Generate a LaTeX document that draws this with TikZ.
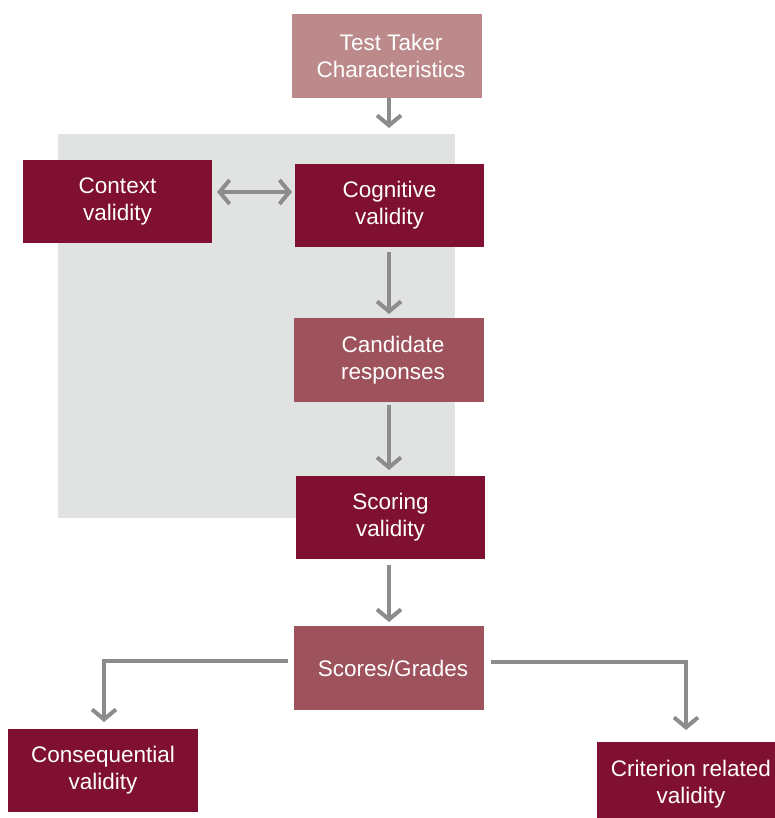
\documentclass[tikz,border=0pt]{standalone}
\usepackage{fontspec}
\setmainfont{Liberation Sans}
\usetikzlibrary{arrows.meta}
\definecolor{darkred}{HTML}{801031}
\definecolor{midred}{HTML}{9E525C}
\definecolor{lightred}{HTML}{BC8A8A}
\definecolor{panelgray}{HTML}{E1E3E3}
\definecolor{arrowgray}{HTML}{8C8C8C}
\newcommand{\nudge}{\hspace*{8pt}}
\begin{document}
\begin{tikzpicture}[x=1pt,y=-1pt,
  box/.style={minimum width=190pt,minimum height=84pt,inner sep=0pt,
    text=white,align=center,font=\fontsize{22.5pt}{27pt}\selectfont},
  darkbox/.style={box,fill=darkred},
  midbox/.style={box,fill=midred},
  lightbox/.style={box,fill=lightred},
  flow/.style={draw=arrowgray,line width=4pt,
    -{Straight Barb[length=10pt,width=24pt,line width=4pt]}},
  flowboth/.style={flow,{Straight Barb[length=10pt,width=24pt,line width=4pt]}-{Straight Barb[length=10pt,width=24pt,line width=4pt]}}]
\useasboundingbox (0,0) rectangle (775,818);
\fill[white] (0,0) rectangle (775,818);
% shaded panel behind the test-task stages
\fill[panelgray] (58,134) rectangle (455,518);

\node[lightbox] (ttc) at (387,56) {\nudge Test Taker\\\nudge Characteristics};
\node[darkbox,minimum width=189pt,minimum height=83pt] (ctx) at (117.5,201.5) {Context\\validity};
\node[darkbox,minimum width=189pt,minimum height=83pt] (cog) at (389.5,205.5) {Cognitive\\validity};
\node[midbox] (cand) at (389,360) {\nudge Candidate\\\nudge responses};
\node[darkbox,minimum width=189pt,minimum height=83pt] (scor) at (390.5,517.5) {Scoring\\validity};
\node[midbox] (grades) at (389,668) {\nudge Scores/Grades};
\node[darkbox,minimum width=190pt,minimum height=83pt] (cons) at (103,770.5) {Consequential\\validity};
\node[darkbox,minimum width=188pt,minimum height=84pt] (crit) at (691,784) {Criterion related\\validity};

\coordinate (lcorner) at (104,661);
\coordinate (rcorner) at (686,662);

\draw[flow] (389,98) -- (389,128);
\draw[flowboth] (217,192) -- (292,192);
\draw[flow] (389,252) -- (389,314);
\draw[flow] (389,405) -- (389,470);
\draw[flow] (389,565) -- (389,622);
\draw[flow] (288,661) -- (lcorner) -- (104,722);
\draw[flow] (491,662) -- (rcorner) -- (686,730);
\end{tikzpicture}
\end{document}
